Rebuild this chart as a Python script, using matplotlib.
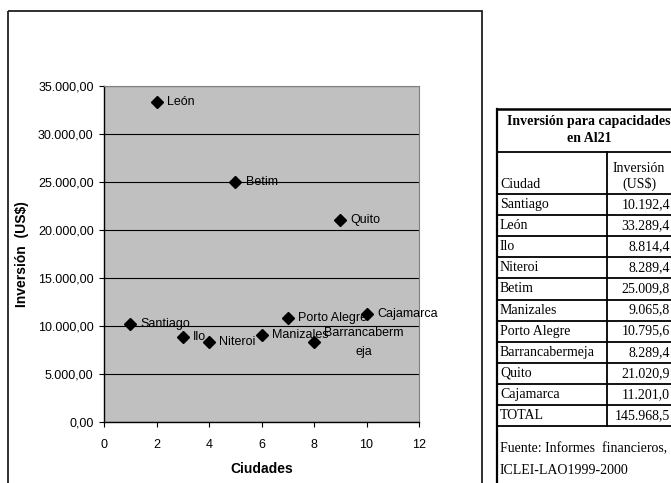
import matplotlib.pyplot as plt
from matplotlib.patches import Rectangle
from matplotlib.ticker import FuncFormatter, MultipleLocator

ciudades = ['Santiago', 'León', 'Ilo', 'Niteroi', 'Betim', 'Manizales',
            'Porto Alegre', 'Barrancabermeja', 'Quito', 'Cajamarca']
etiquetas = ['Santiago', 'León', 'Ilo', 'Niteroi', 'Betim', 'Manizales',
             'Porto Alegre', 'Barrancaberm\neja', 'Quito', 'Cajamarca']
posicion = [1, 2, 3, 4, 5, 6, 7, 8, 9, 10]
inversion = [10192.4, 33289.4, 8814.4, 8289.4, 25009.8, 9065.8,
             10795.6, 8289.4, 21020.9, 11201.0]
total = 145968.5

titulo_tabla = 'Inversión para capacidades\nen Al21'
fuente = ['Fuente: Informes  financieros,', 'ICLEI-LAO1999-2000']

W, H = 671, 483


def num_es(v, dec):
    s = '{:,.{}f}'.format(v, dec)
    return s.replace(',', 'X').replace('.', ',').replace('X', '.')


fig = plt.figure(figsize=(W / 100, H / 100), dpi=100)
fig.patch.set_facecolor('white')

# capa de fondo en coordenadas de pixel (marco y tabla)
bg = fig.add_axes([0, 0, 1, 1], zorder=0)
bg.set_xlim(0, W)
bg.set_ylim(H, 0)
bg.axis('off')

# marco del grafico
bg.add_patch(Rectangle((8, 11), 474, 480, fill=False, edgecolor='#202020', lw=1.3))

# tabla
serif = 'Liberation Serif'
x0, xc, x1 = 497, 607, 671
y_top, y_h1, y_h2 = 109, 152, 194
row_h = 21.1
n = len(ciudades) + 1
y_end = y_h2 + n * row_h

bg.plot([x0, x1], [y_top, y_top], color='black', lw=1.8)
bg.plot([x0, x0], [y_top, H], color='black', lw=1.6)
bg.plot([x0, x1], [y_h1, y_h1], color='black', lw=1.3)
bg.plot([x0, x1], [y_h2, y_h2], color='black', lw=1.3)
for i in range(n):
    y = y_h2 + (i + 1) * row_h
    bg.plot([x0, x1], [y, y], color='black', lw=1.3)
bg.plot([xc, xc], [y_h1, y_end], color='black', lw=1.3)

bg.text(589, 130, titulo_tabla, family=serif, fontsize=10, fontweight='bold',
        ha='center', va='center', multialignment='center', linespacing=1.45)
bg.text(x0 + 3, 184, 'Ciudad', family=serif, fontsize=10, va='center')
bg.text(639, 169, 'Inversión', family=serif, fontsize=10, ha='center', va='center')
bg.text(639, 184, '(US$)', family=serif, fontsize=10, ha='center', va='center')

filas = ciudades + ['TOTAL']
valores = inversion + [total]
for i, (c, v) in enumerate(zip(filas, valores)):
    yc = y_h2 + (i + 0.5) * row_h
    bg.text(x0 + 3, yc, c, family=serif, fontsize=10, va='center')
    bg.text(670, yc, num_es(v, 1), family=serif, fontsize=10, ha='right', va='center')

bg.text(x0 + 3, 449, fuente[0], family=serif, fontsize=10, va='center')
bg.text(x0 + 3, 471, fuente[1], family=serif, fontsize=10, va='center')

# grafico de dispersion
plt.rcParams['font.family'] = ['Liberation Sans', 'DejaVu Sans']
ax = fig.add_axes([104 / W, 1 - 422 / H, 315 / W, 336 / H], zorder=2)
ax.set_facecolor('#C0C0C0')
ax.set_xlim(0, 12)
ax.set_ylim(0, 35000)
ax.xaxis.set_major_locator(MultipleLocator(2))
ax.yaxis.set_major_locator(MultipleLocator(5000))
ax.yaxis.set_major_formatter(FuncFormatter(lambda v, p: num_es(v, 2)))
ax.grid(axis='y', color='black', lw=0.8)
ax.set_axisbelow(True)
for s in ['top', 'right']:
    ax.spines[s].set_color('#808080')
    ax.spines[s].set_linewidth(0.8)
for s in ['left', 'bottom']:
    ax.spines[s].set_color('black')
    ax.spines[s].set_linewidth(1.0)
ax.tick_params(direction='out', length=3.5, width=0.8, labelsize=9, pad=4)
ax.tick_params(axis='x', pad=8.5)

for x, y, t in zip(posicion, inversion, etiquetas):
    ax.annotate(t, (x, y), xytext=(7.5, 0), textcoords='offset points',
                ha='left', va='center', multialignment='center',
                linespacing=1.7, fontsize=9, zorder=3)
ax.plot(posicion, inversion, linestyle='none', marker='D', markersize=6,
        color='black', zorder=4)

ax.set_xlabel('Ciudades', fontsize=10, fontweight='bold', labelpad=8)
ax.set_ylabel('Inversión  (US$)', fontsize=10, fontweight='bold', labelpad=6)

fig.savefig('out.png', dpi=100)
